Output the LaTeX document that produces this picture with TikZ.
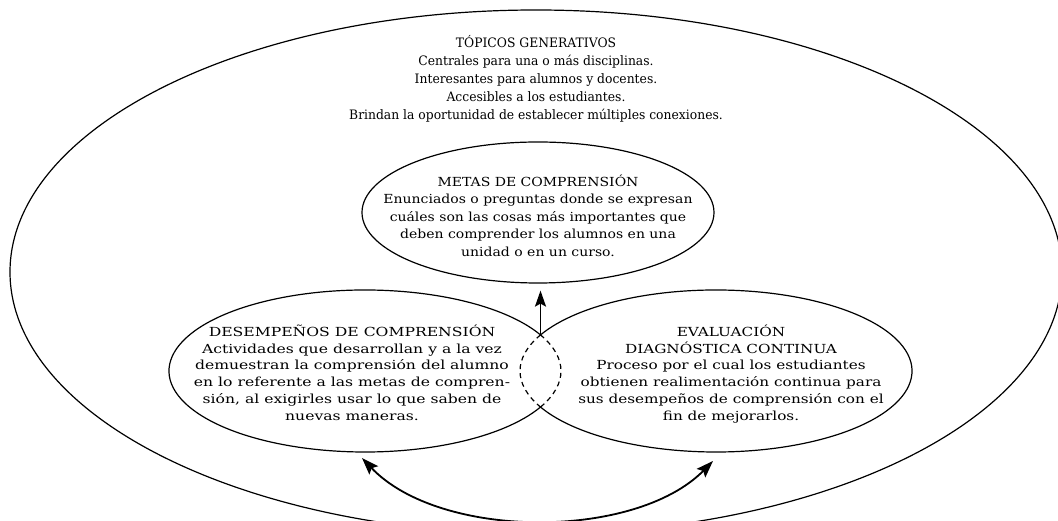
\documentclass[tikz,border=0pt]{standalone}
\usepackage{fontspec}
\usepackage{graphicx}
\setmainfont{DejaVu Serif}
\usetikzlibrary{arrows.meta,shapes.geometric}
\newcommand\blk[2]{\scalebox{#1}[1]{\begin{tabular}{@{}c@{}}#2\end{tabular}}}
\tikzset{
  ln/.style={draw=black, line width=1.2pt},
  ell/.style={ellipse, ln, inner sep=0pt},
  dsh/.style={draw=black, line width=1.2pt, dash pattern=on 5pt off 4pt},
  tip/.style={},
  arr/.style={draw=black, line width=1.8pt, -{Stealth[length=16pt,width=11pt,inset=3pt]}},
  darr/.style={draw=black, line width=1.8pt, {Stealth[length=17pt,width=12pt,inset=3pt]}-{Stealth[length=17pt,width=12pt,inset=3pt]}},
  txt/.style={inner sep=0pt, align=center},
}
\begin{document}
\begin{tikzpicture}[x=1pt,y=1pt]
\useasboundingbox (0,0) rectangle (1058,521);
\clip (0,0) rectangle (1058,521);
\fill[white] (0,0) rectangle (1058,521);
% outer ellipse
\node[ell, minimum width=1052pt, minimum height=524pt] (outer) at (536,249) {};
\node[txt, font=\fontsize{13}{18}\selectfont] (tg) at (536,441) {\blk{0.95}{T\'OPICOS GENERATIVOS\\
Centrales para una o m\'as disciplinas.\\
Interesantes para alumnos y docentes.\\
Accesibles a los estudiantes.\\
Brindan la oportunidad de establecer m\'ultiples conexiones.}};
% metas
\node[ell, minimum width=352pt, minimum height=141pt] (metas) at (538,308.5) {};
\node[txt, font=\fontsize{12.5}{17.5}\selectfont] (mt) at (538,303) {\blk{1.12}{METAS DE COMPRENSI\'ON\\
Enunciados o preguntas donde se expresan\\
cu\'ales son las cosas m\'as importantes que\\
deben comprender los alumnos en una\\
unidad o en un curso.}};
% lower ellipses
\coordinate (des) at (365,150);
\coordinate (eva) at (716,150);
\coordinate (xtop) at (540.5,186.06);
\coordinate (xbot) at (540.5,113.94);
\draw[ln] (des) ++(26.43:196 and 81) arc[start angle=26.43, end angle=333.57, x radius=196, y radius=81];
\draw[dsh] (des) ++(-26.43:196 and 81) arc[start angle=-26.43, end angle=26.43, x radius=196, y radius=81];
\draw[ln] (eva) ++(206.43:196 and 81) arc[start angle=206.43, end angle=513.57, x radius=196, y radius=81];
\draw[dsh] (eva) ++(153.57:196 and 81) arc[start angle=153.57, end angle=206.43, x radius=196, y radius=81];
\node[txt, font=\fontsize{12.5}{16.8}\selectfont] (dt) at (352,146) {\blk{1.25}{DESEMPE\~NOS DE COMPRENSI\'ON\\
Actividades que desarrollan y a la vez\\
demuestran la comprensi\'on del alumno\\
en lo referente a las metas de compren-\\
si\'on, al exigirles usar lo que saben de\\
nuevas maneras.}};
\node[txt, font=\fontsize{12.5}{16.8}\selectfont] (et) at (731,146) {\blk{1.22}{EVALUACI\'ON\\
DIAGN\'OSTICA CONTINUA\\
Proceso por el cual los estudiantes\\
obtienen realimentaci\'on continua para\\
sus desempe\~nos de comprensi\'on con el\\
fin de mejorarlos.}};
% arrows
\draw[arr, shorten >=7pt] (xtop) -- (xtop |- metas.south);
\coordinate (la) at (362,63);
\coordinate (ra) at (713,60);
\draw[darr] (la) .. controls (440,-19) and (635,-19) .. (ra);
\end{tikzpicture}
\end{document}
